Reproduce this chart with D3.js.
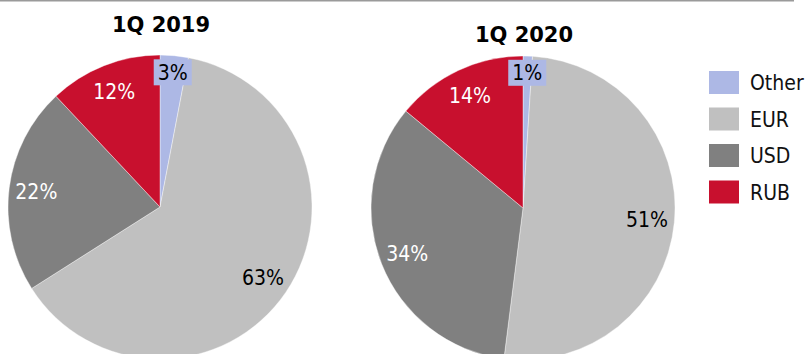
<html>
<head>
<script src="https://d3js.org/d3.v7.min.js"></script>
<style>
  body { margin: 0; background: #fff; }
  text { font-family: "DejaVu Sans Condensed", "DejaVu Sans", Verdana, sans-serif; }
</style>
</head>
<body>
<script>
    // data
    var categories = ['Other', 'EUR', 'USD', 'RUB'];
    var colors = ['#adb8e5', '#c0c0c0', '#808080', '#c8102e'];
    var labelColors = ['#000', '#000', '#fff', '#fff'];
    var titles = ['1Q 2019', '1Q 2020'];
    var values2019 = [3, 63, 22, 12];
    var values2020 = [1, 51, 34, 14];

    var width = 806, height = 354;
    var svg = d3.select('body').append('svg').attr('width', width).attr('height', height);

    // top rule
    svg.append('line').attr('x1', 0).attr('x2', 794).attr('y1', 0.7).attr('y2', 0.7)
        .attr('stroke', '#9a9a9a').attr('stroke-width', 1.5);

    var radius = 152;
    var pies = [
        {title: titles[0], values: values2019, cx: 160, cy: 207, ty: 32},
        {title: titles[1], values: values2020, cx: 523, cy: 208, ty: 42}
    ];

    var pie = d3.pie().sort(null).value(function(d){ return d; });
    var arc = d3.arc().innerRadius(0).outerRadius(radius);

    pies.forEach(function(p){
        var g = svg.append('g').attr('transform', 'translate(' + p.cx + ',' + p.cy + ')');
        var arcs = pie(p.values);

        g.selectAll('path').data(arcs).enter().append('path')
            .attr('d', arc)
            .attr('fill', function(d, i){ return colors[i]; })
            .attr('stroke', '#fff').attr('stroke-width', 0.4);

        arcs.forEach(function(d, i){
            var small = d.data < 5;
            var lr = radius * (small ? 0.89 : 0.82);
            var a = (d.startAngle + d.endAngle) / 2;
            var x = Math.sin(a) * lr, y = -Math.cos(a) * lr;
            if (small) {
                g.append('rect').attr('x', x - 19).attr('y', y - 13)
                    .attr('width', 38).attr('height', 26).attr('fill', colors[i]);
            }
            g.append('text').attr('x', x).attr('y', y)
                .attr('text-anchor', 'middle').attr('dy', '0.36em')
                .attr('font-size', 21).attr('fill', labelColors[i])
                .text(d.data + '%');
        });

        svg.append('text').attr('x', p.cx + 1).attr('y', p.ty)
            .attr('text-anchor', 'middle').attr('font-size', 21).attr('font-weight', 'bold')
            .style('font-family', '"DejaVu Sans", Verdana, sans-serif')
            .attr('fill', '#000').text(p.title);
    });

    // legend
    var legend = svg.append('g').attr('transform', 'translate(709,71)');
    var rows = legend.selectAll('g').data(categories).enter().append('g')
        .attr('transform', function(d, i){ return 'translate(0,' + (i * 36.5) + ')'; });
    rows.append('rect').attr('width', 30).attr('height', 23)
        .attr('fill', function(d, i){ return colors[i]; });
    rows.append('text').attr('x', 41).attr('y', 11.5).attr('dy', '0.36em')
        .attr('font-size', 21).attr('fill', '#111').text(function(d){ return d; });
</script>
</body>
</html>
